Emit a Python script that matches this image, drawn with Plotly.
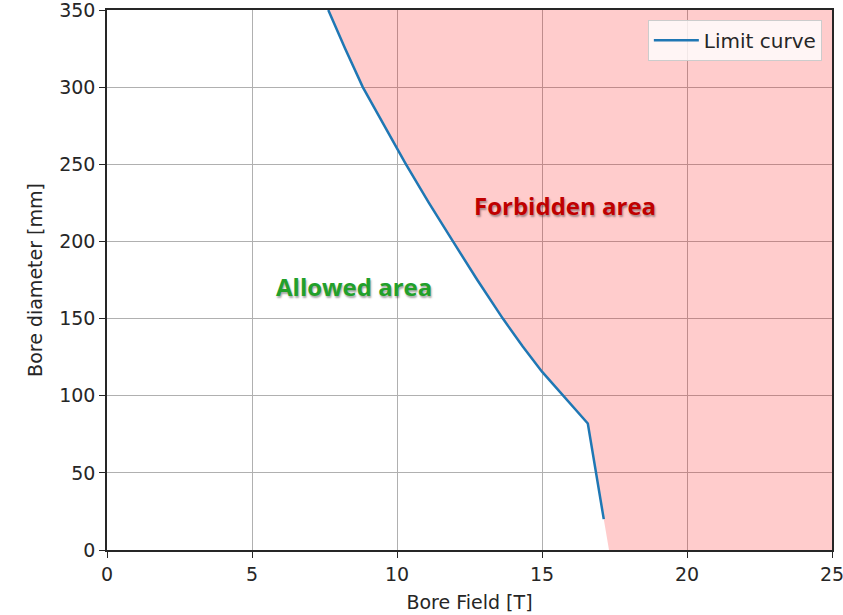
import plotly.graph_objects as go

# Limit curve data (Bore field [T], bore diameter [mm])
field = [7.63, 8.21, 8.82, 9.55, 10.0, 10.31, 11.1, 11.93, 12.77, 13.65, 14.33, 15.0, 16.58, 17.13]
diameter = [350, 325, 300, 275, 260.3, 250, 225, 200, 175, 150, 132, 115.6, 82, 20]

# Forbidden region extra boundary points
forbid_x_extra = [17.31, 25, 25]
forbid_y_extra = [0, 0, 350]

x_ticks = [0, 5, 10, 15, 20, 25]
y_ticks = [0, 50, 100, 150, 200, 250, 300, 350]

fig = go.Figure()

fig.add_trace(go.Scatter(
    x=field + forbid_x_extra + [field[0]],
    y=diameter + forbid_y_extra + [diameter[0]],
    fill="toself", fillcolor="rgba(255,0,0,0.2)",
    line=dict(width=0), mode="lines", showlegend=False, hoverinfo="skip"))

fig.add_trace(go.Scatter(
    x=field, y=diameter, mode="lines", name="Limit curve",
    line=dict(color="#1f77b4", width=2.5)))

fig.add_annotation(x=15.81, y=223, text="<b>Forbidden area</b>", showarrow=False,
                   font=dict(family="Open Sans", size=24, color="#c00000",
                             shadow="1px 2px 2px rgba(0,0,0,0.35)"))
fig.add_annotation(x=8.5, y=171, text="<b>Allowed area</b>", showarrow=False,
                   font=dict(family="Open Sans", size=24, color="#22a02a",
                             shadow="1px 2px 2px rgba(0,0,0,0.35)"))

axis_common = dict(showgrid=True, gridcolor="#b0b0b0", gridwidth=1,
                   showline=True, linecolor="#262626", linewidth=1.5, mirror=True,
                   ticks="outside", ticklen=6, tickcolor="#262626",
                   tickfont=dict(family="DejaVu Sans", size=19, color="#262626"),
                   zeroline=False, automargin=False, ticklabeloverflow="allow")

fig.update_xaxes(range=[0, 25], tickvals=x_ticks,
                 title=dict(text="Bore Field [T]", font=dict(family="DejaVu Sans", size=19, color="#262626"),
                            standoff=12),
                 **axis_common)
fig.update_yaxes(range=[0, 350], tickvals=y_ticks,
                 title=dict(text="Bore diameter [mm]", font=dict(family="DejaVu Sans", size=19, color="#262626"),
                            standoff=12),
                 **axis_common)

fig.update_layout(
    width=843, height=615,
    margin=dict(l=107, r=11, t=10, b=65),
    plot_bgcolor="white", paper_bgcolor="white",
    legend=dict(x=0.986, y=0.982, xanchor="right", yanchor="top",
                bgcolor="rgba(255,255,255,0.8)", bordercolor="#cccccc", borderwidth=1,
                itemwidth=45,
                font=dict(family="DejaVu Sans", size=20, color="#262626")),
)

fig.write_html("out.html")
